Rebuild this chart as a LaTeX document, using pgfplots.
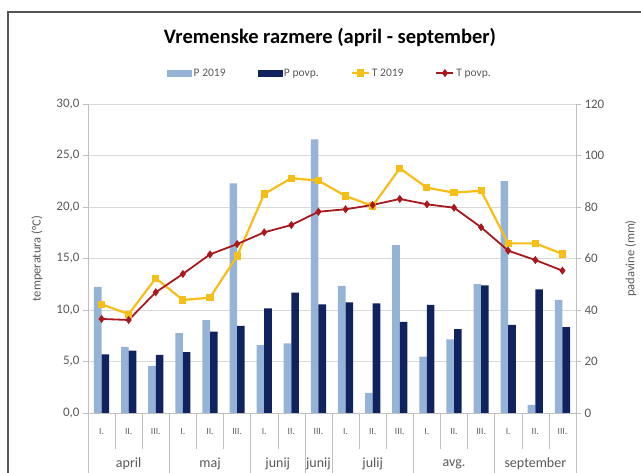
\documentclass[border=0pt]{standalone}
\usepackage{fontspec}
\setmainfont{Carlito}
\usepackage{pgfplots}
\pgfplotsset{compat=1.18}
\definecolor{lb}{HTML}{95B3D7}
\definecolor{db}{HTML}{10235F}
\definecolor{ty}{HTML}{F7BE18}
\definecolor{tr}{HTML}{A8191E}
\definecolor{gridc}{HTML}{D9D9D9}
\definecolor{axc}{HTML}{BFBFBF}
\definecolor{txt}{HTML}{595959}
\definecolor{frame}{HTML}{555555}

\pgfplotstableread{
i P2019 Ppovp T2019 Tpovp
0  49.0 22.8 10.55  9.13
1  25.7 24.2  9.60  9.03
2  18.3 22.6 13.08 11.72
3  31.0 23.6 10.97 13.50
4  36.1 31.6 11.20 15.40
5  89.2 33.8 15.24 16.40
6  26.4 40.6 21.26 17.54
7  27.0 46.7 22.80 18.25
8 106.3 42.2 22.56 19.54
9  49.4 43.0 21.07 19.78
10  7.8 42.6 20.10 20.20
11 65.2 35.4 23.76 20.78
12 21.9 42.0 21.87 20.26
13 28.6 32.6 21.39 19.93
14 50.0 49.6 21.58 18.03
15 90.0 34.2 16.47 15.76
16  3.2 48.0 16.47 14.85
17 43.9 33.3 15.44 13.82
}\datatable

\begin{document}
\begin{tikzpicture}[x=1pt,y=1pt]
\path[use as bounding box] (0,0) rectangle (641,473);
\draw[line width=2pt, color=frame] (8,0) -- (8,461) -- (641,461);
\node[font=\bfseries\fontsize{20.5}{24}\selectfont] at (330,435) {Vremenske razmere (april -  september)};

\begin{axis}[
  at={(88pt,60pt)}, anchor=south west, scale only axis,
  width=488pt, height=309pt,
  xmin=-0.5, xmax=17.5, ymin=0, ymax=120,
  axis y line*=right, axis x line*=bottom,
  axis line style={axc},
  clip=false,
  ybar=0pt, bar width=7.6pt,
  xtick={0,...,17},
  xticklabels={I.,II.,III.,I.,II.,III.,I.,II.,III.,I.,II.,III.,I.,II.,III.,I.,II.,III.},
  xtick style={draw=none},
  xticklabel style={font=\fontsize{9.5}{10}\selectfont, text=txt, yshift=-7pt},
  ytick={0,20,...,120},
  ymajorgrids, grid style={gridc},
  tick align=outside, major tick length=5pt,
  ytick style={axc},
  yticklabel style={font=\fontsize{13}{15}\selectfont, text=txt},
  /pgf/number format/assume math mode=true,
  ylabel={padavine (mm)},
  ylabel shift=14pt,
  ylabel style={font=\fontsize{12.5}{14}\selectfont, text=txt},
]
\addplot[fill=lb, draw=none] table[x=i, y=P2019] {\datatable};
\addplot[fill=db, draw=none] table[x=i, y=Ppovp] {\datatable};
\pgfplotsinvokeforeach{0.5,1.5,3.5,4.5,6.5,9.5,10.5,12.5,13.5,15.5,16.5}{
  \draw[axc] (axis cs:#1,0) -- ([yshift=-36pt]axis cs:#1,0);
}
\pgfplotsinvokeforeach{-0.5,2.5,5.5,7.5,8.5,11.5,14.5,17.5}{
  \draw[axc] (axis cs:#1,0) -- ([yshift=-62pt]axis cs:#1,0);
}
\node[font=\fontsize{14}{16}\selectfont, text=txt] at ([yshift=-51pt]axis cs:1,0) {april};
\node[font=\fontsize{14}{16}\selectfont, text=txt] at ([yshift=-51pt]axis cs:4,0) {maj};
\node[font=\fontsize{14}{16}\selectfont, text=txt] at ([yshift=-51pt]axis cs:6.5,0) {junij};
\node[font=\fontsize{14}{16}\selectfont, text=txt] at ([yshift=-51pt]axis cs:8,0) {junij};
\node[font=\fontsize{14}{16}\selectfont, text=txt] at ([yshift=-51pt]axis cs:10,0) {julij};
\node[font=\fontsize{14}{16}\selectfont, text=txt] at ([yshift=-51pt]axis cs:13,0) {avg.};
\node[font=\fontsize{14}{16}\selectfont, text=txt] at ([yshift=-51pt]axis cs:16,0) {september};
\end{axis}

\begin{axis}[
  at={(88pt,60pt)}, anchor=south west, scale only axis,
  width=488pt, height=309pt,
  xmin=-0.5, xmax=17.5, ymin=0, ymax=30,
  axis y line*=left, axis x line=none,
  axis line style={axc},
  ytick={0,5,...,30},
  tick align=outside, major tick length=5pt,
  ytick style={axc},
  yticklabel style={font=\fontsize{13}{15}\selectfont, text=txt,
    /pgf/number format/.cd, fixed, fixed zerofill, precision=1, use comma},
  /pgf/number format/assume math mode=true,
  ylabel={temperatura (°C)},
  ylabel shift=7pt,
  ylabel style={font=\fontsize{12.5}{14}\selectfont, text=txt},
  legend style={at={(0.496,1.1)}, anchor=center, draw=none, fill=none,
    font=\fontsize{11.5}{13}\selectfont, text=txt, legend columns=4,
    /tikz/every even column/.append style={column sep=30pt}},
]
\addlegendimage{legend image code/.code={\fill[lb] (0pt,-3pt) rectangle (24pt,3pt);}}
\addlegendentry{P 2019}
\addlegendimage{legend image code/.code={\fill[db] (0pt,-3pt) rectangle (24pt,3pt);}}
\addlegendentry{P povp.}
\addplot[color=ty, line width=2.2pt, mark=square*, mark size=2.5pt, mark options={fill=ty}] table[x=i, y=T2019] {\datatable};
\addlegendentry{T 2019}
\addplot[color=tr, line width=1.8pt, mark=diamond*, mark size=2.6pt, mark options={fill=tr}] table[x=i, y=Tpovp] {\datatable};
\addlegendentry{T povp.}
\end{axis}
\end{tikzpicture}
\end{document}
